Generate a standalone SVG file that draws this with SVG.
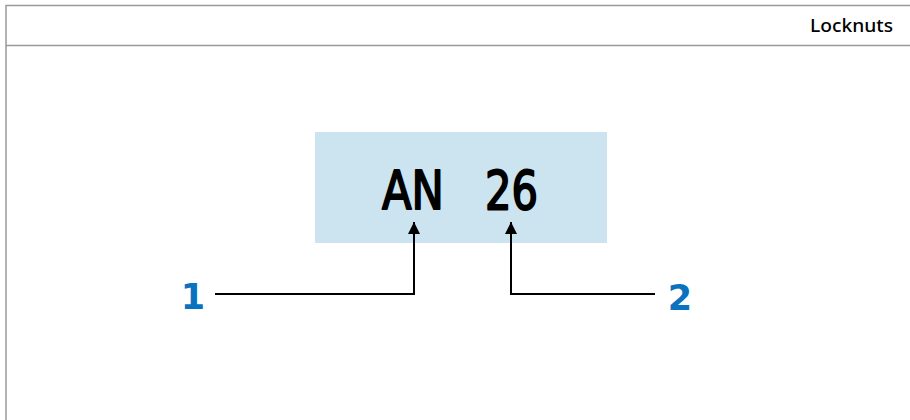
<svg xmlns="http://www.w3.org/2000/svg" width="910" height="420" viewBox="0 0 910 420">
<style>
.frame{stroke:#999;stroke-width:1.5;fill:none}
.conn{stroke:#000;stroke-width:2;fill:none}
.num{font-family:"DejaVu Sans",sans-serif;font-size:35px;font-weight:bold;fill:#0a72be}
.code{font-family:"DejaVu Sans",sans-serif;font-size:53px;font-weight:normal;fill:#000;stroke:#000;stroke-width:2;stroke-linejoin:round}
</style>
<defs>
<marker id="arr" markerUnits="userSpaceOnUse" markerWidth="12" markerHeight="16" refX="12" refY="6" orient="auto" viewBox="0 0 12 12">
<path d="M0,0 L12,6 L0,12 z" fill="#000"/>
</marker>
</defs>
<rect width="910" height="420" fill="#fff"/>
<g id="frame">
<path class="frame" d="M6,420 V5.5 H910"/>
<path class="frame" d="M6,45.5 H910"/>
<text x="893" y="32" text-anchor="end" font-family="Noto Sans, sans-serif" font-size="18" font-weight="500" fill="#000" textLength="83" lengthAdjust="spacingAndGlyphs">Locknuts</text>
</g>
<g id="code">
<rect x="315" y="132" width="292" height="111" fill="#cce3f0"/>
<text class="code" x="382" y="209" textLength="62" lengthAdjust="spacingAndGlyphs">AN</text>
<text class="code" x="485" y="209" textLength="53" lengthAdjust="spacingAndGlyphs">26</text>
</g>
<g id="connectors">
<path class="conn" d="M215,294 H414 V222" marker-end="url(#arr)"/>
<path class="conn" d="M655,294 H511 V222" marker-end="url(#arr)"/>
</g>
<g id="label1"><text class="num" x="193" y="309" text-anchor="middle">1</text></g>
<g id="label2"><text class="num" x="680" y="310" text-anchor="middle">2</text></g>
</svg>
